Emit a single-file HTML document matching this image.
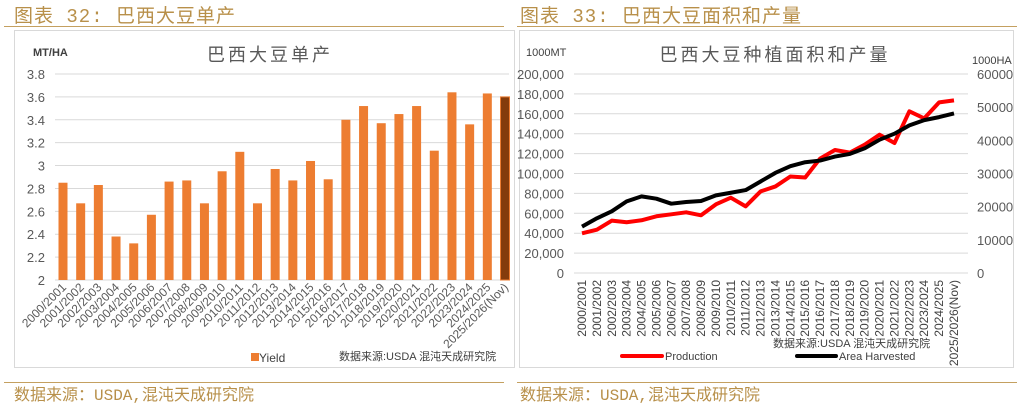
<!DOCTYPE html>
<html><head><meta charset="utf-8"><style>
body{margin:0;width:1021px;height:403px;background:#fff;overflow:hidden;font-family:"Liberation Sans","Noto Sans CJK SC",sans-serif;}
.h{position:absolute;top:1px;font-size:19px;color:#b8904a;font-family:"Liberation Mono","Noto Sans CJK SC",sans-serif;letter-spacing:1px}
.f{position:absolute;top:381px;font-size:16px;color:#b8904a;font-family:"Liberation Mono","Noto Sans CJK SC",sans-serif}
.hl{position:absolute;height:1px;background:#c4a060}
</style></head><body>
<div class="h" style="left:14px">图表 32: 巴西大豆单产</div>
<div class="h" style="left:520px">图表 33: 巴西大豆面积和产量</div>
<div class="hl" style="left:4px;top:26px;width:500px"></div>
<div class="hl" style="left:517px;top:26px;width:500px"></div>
<div class="hl" style="left:4px;top:382px;width:500px"></div>
<div class="hl" style="left:517px;top:382px;width:500px"></div>
<div class="f" style="left:14px">数据来源：USDA,混沌天成研究院</div>
<div class="f" style="left:520px">数据来源：USDA,混沌天成研究院</div>
<svg id="c1" width="1021" height="403" style="position:absolute;left:0;top:0" font-family="Liberation Sans, Noto Sans CJK SC, sans-serif"></svg>
<script>
const cats=["2000/2001","2001/2002","2002/2003","2003/2004","2004/2005","2005/2006","2006/2007","2007/2008","2008/2009","2009/2010","2010/2011","2011/2012","2012/2013","2013/2014","2014/2015","2015/2016","2016/2017","2017/2018","2018/2019","2019/2020","2020/2021","2021/2022","2022/2023","2023/2024","2024/2025","2025/2026(Nov)"];
const yieldVals=[2.85,2.67,2.83,2.38,2.32,2.57,2.86,2.87,2.67,2.95,3.12,2.67,2.97,2.87,3.04,2.88,3.40,3.52,3.37,3.45,3.52,3.13,3.64,3.36,3.63,3.60];
const yieldTicks=[2,2.2,2.4,2.6,2.8,3,3.2,3.4,3.6,3.8];
const production=[39.9,43.5,52.6,51,53,57,59,61,58,69,75.7,67,82,87,97,96,115,123.6,121,129,139,130.6,162.5,155.4,171.5,173.5];
const area=[14.0,16.5,18.6,21.6,23.1,22.4,20.9,21.4,21.7,23.4,24.2,25.0,27.6,30.2,32.2,33.4,33.9,35.1,35.9,37.6,40.2,42.0,44.5,46.1,47.0,48.1];
const leftTicks=[0,20000,40000,60000,80000,100000,120000,140000,160000,180000,200000];
const rightTicks=[0,10000,20000,30000,40000,50000,60000];
const svg=document.getElementById('c1');const NS='http://www.w3.org/2000/svg';
function mk(t,a,txt){const e=document.createElementNS(NS,t);for(const k in a)e.setAttribute(k,a[k]);if(txt!=null)e.textContent=txt;svg.appendChild(e);return e;}
// panels
let p=mk('rect',{x:14.5,y:30.5,width:500,height:337,fill:'none',stroke:'#d9d9d9'});
p=mk('rect',{x:519.5,y:30.5,width:494,height:337,fill:'none',stroke:'#d9d9d9'});
// chart 1
const y1=v=>280-(v-2)/1.8*206;const x1=i=>63+i*17.68;
yieldTicks.forEach(t=>{let l=mk('line',{x1:55,x2:509,y1:y1(t),y2:y1(t),stroke:'#d9d9d9','stroke-width':1});
let tx=mk('text',{x:45,y:y1(t)+5,'text-anchor':'end','font-size':13,fill:'#595959'},String(t));});
yieldVals.forEach((v,i)=>{const last=i===yieldVals.length-1;let r=mk('rect',{x:x1(i)-4.5,y:y1(v),width:9,height:280-y1(v),fill:last?'#843c0c':'#ed7d31',stroke:last?'#ed7d31':'none','stroke-width':1});
let t=mk('text',{x:0,y:0,'text-anchor':'end','font-size':12,fill:'#595959',transform:`translate(${x1(i)+4},${288}) rotate(-45)`},cats[i]);});
let t;
t=mk('text',{x:270,y:61,'text-anchor':'middle','font-size':18,fill:'#595959','letter-spacing':3},'巴西大豆单产');
t=mk('text',{x:33,y:56,'font-size':11,fill:'#404040','font-weight':'bold'},'MT/HA');
t=mk('rect',{x:251,y:353,width:8,height:8,fill:'#ed7d31'});
t=mk('text',{x:259,y:362,'font-size':12,fill:'#404040'},'Yield');
t=mk('text',{x:339,y:360,'font-size':11,fill:'#404040'},'数据来源:USDA  混沌天成研究院');
// chart 2
const yL=v=>273-v/200000*199;const yR=v=>273-v/60000*199;const x2=i=>582+i*14.88;
leftTicks.forEach(v=>{let l=mk('line',{x1:574,x2:968,y1:yL(v),y2:yL(v),stroke:'#d9d9d9'});
let tx=mk('text',{x:564,y:yL(v)+5,'text-anchor':'end','font-size':13,fill:'#595959'},v.toLocaleString('en-US'));});
rightTicks.forEach(v=>{let tx=mk('text',{x:977,y:yR(v)+5,'font-size':13,fill:'#595959'},String(v));});
cats.forEach((c,i)=>{let tx=mk('text',{x:0,y:0,'text-anchor':'end','font-size':12,fill:'#404040',transform:`translate(${x2(i)+4},${280}) rotate(-90)`},c);});
let pl=mk('polyline',{points:production.map((v,i)=>x2(i)+','+yL(v*1000)).join(' '),fill:'none',stroke:'#ff0000','stroke-width':4,'stroke-linejoin':'round'});
pl=mk('polyline',{points:area.map((v,i)=>x2(i)+','+yR(v*1000)).join(' '),fill:'none',stroke:'#000','stroke-width':4,'stroke-linejoin':'round'});
t=mk('text',{x:775,y:61,'text-anchor':'middle','font-size':18,fill:'#595959','letter-spacing':3},'巴西大豆种植面积和产量');
t=mk('text',{x:526,y:56,'font-size':11,fill:'#404040'},'1000MT');
t=mk('text',{x:972,y:64,'font-size':11,fill:'#404040'},'1000HA');
t=mk('line',{x1:622,x2:662,y1:356,y2:356,stroke:'#ff0000','stroke-width':4,'stroke-linecap':'round'});
t=mk('text',{x:665,y:360,'font-size':11,fill:'#404040'},'Production');
t=mk('line',{x1:797,x2:836,y1:356,y2:356,stroke:'#000','stroke-width':4,'stroke-linecap':'round'});
t=mk('text',{x:839,y:360,'font-size':11,fill:'#404040'},'Area Harvested');
t=mk('text',{x:773,y:347,'font-size':11,fill:'#404040'},'数据来源:USDA  混沌天成研究院');
</script>
</body></html>
